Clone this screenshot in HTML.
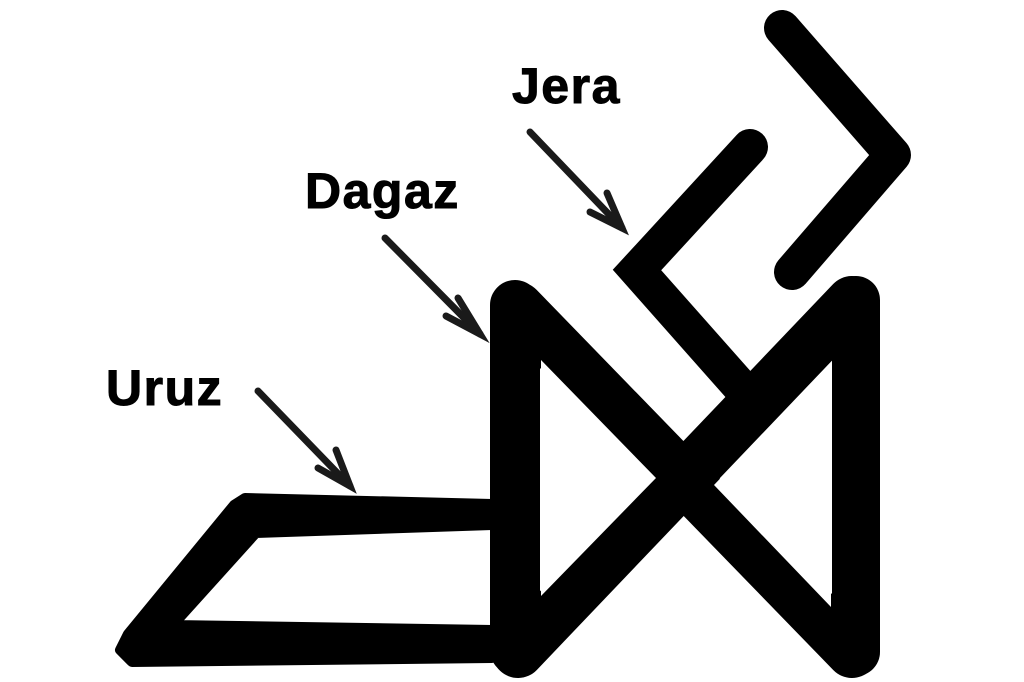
<!DOCTYPE html>
<html><head><style>
html,body{margin:0;padding:0;background:#fff;}
svg{display:block}
text{font-family:"Liberation Sans",sans-serif;font-weight:bold;font-size:50px;letter-spacing:1.5px;fill:#000;stroke:#000;stroke-width:1}
</style></head><body>
<svg width="1024" height="682" viewBox="0 0 1024 682" xmlns="http://www.w3.org/2000/svg">
<rect width="1024" height="682" fill="#fff"/>
<!-- Jera -->
<polyline points="782,28 893,155 792,272" fill="none" stroke="#000" stroke-width="36" stroke-linecap="round" stroke-linejoin="round"/>
<polyline points="750,147 637,270 745,392" fill="none" stroke="#000" stroke-width="36" stroke-linecap="round" stroke-linejoin="miter"/>
<!-- Dagaz -->
<g stroke="#000" stroke-linecap="round" fill="none">
<line x1="515" y1="305" x2="515" y2="650" stroke-width="50"/>
<line x1="856" y1="300" x2="856" y2="652" stroke-width="48"/>
<line x1="518" y1="308" x2="852" y2="652" stroke-width="52"/>
<line x1="852" y1="302" x2="518" y2="652" stroke-width="52"/>
</g>
<polygon points="541,360 541,596 656,478" fill="#fff"/>
<polygon points="831,362 831,607 714,485" fill="#fff"/>
<!-- Uruz -->
<polygon points="245,498 492,504 492,525 256,533 173,625 492,630 492,658 132,662 120,650 128,634 234,505" fill="#000" stroke="#000" stroke-width="10" stroke-linejoin="round"/>
<!-- Arrows -->
<g stroke="#1a1a1a" stroke-width="7" stroke-linecap="round" fill="none">
<line x1="530" y1="132" x2="622" y2="228"/>
<polyline points="607,193 622,228 590,212"/>
<line x1="385" y1="238" x2="480" y2="334"/>
<polyline points="458,298 480,334 446,316"/>
<line x1="258" y1="391" x2="350" y2="486"/>
<polyline points="336,450 350,486 318,468"/>
</g>
<text x="512" y="103">Jera</text>
<text x="305" y="208">Dagaz</text>
<text x="106" y="405">Uruz</text>
</svg>
</body></html>
